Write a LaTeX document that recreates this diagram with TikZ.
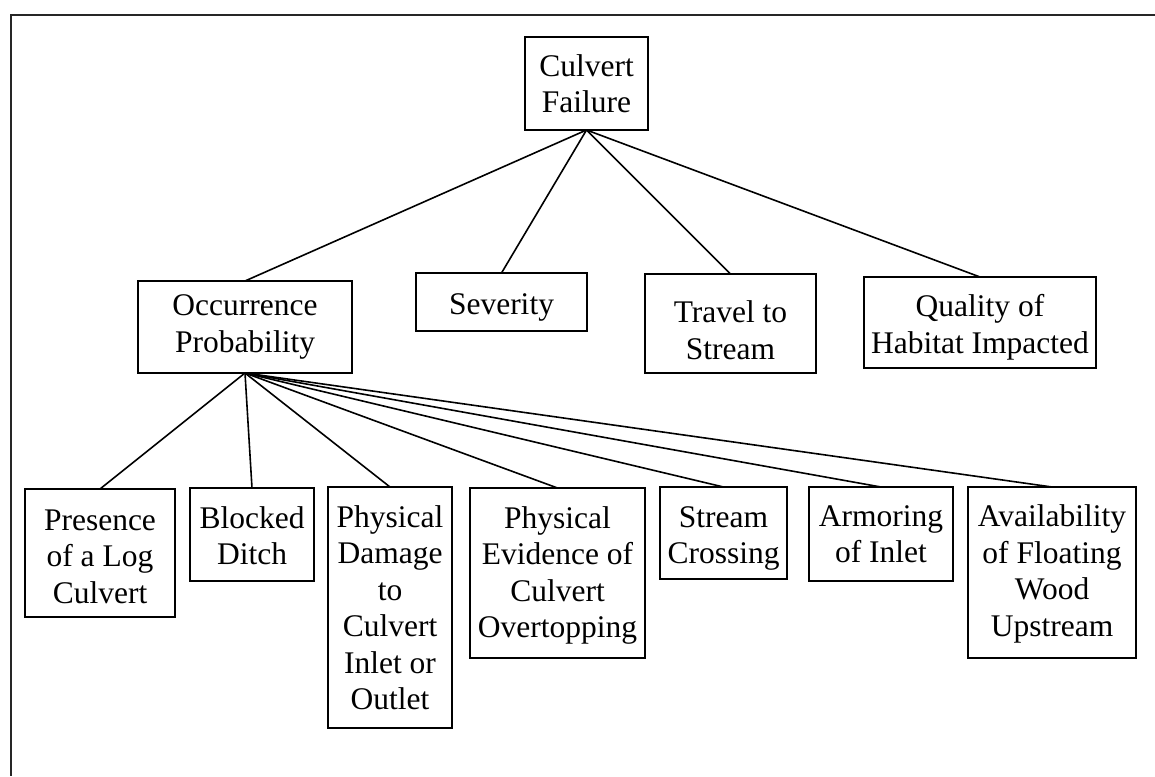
\documentclass[tikz,border=0pt]{standalone}
\usepackage{fontspec}
\setmainfont{Liberation Serif}
% invisible strut that lowers a box's text by #1 pt
\newcommand\dn[1]{\rule{0pt}{\dimexpr 21.5pt+#1pt*2\relax}}
\begin{document}
\begin{tikzpicture}[x=1pt,y=-1pt,
  box/.style={draw=black, line width=1.6pt, inner sep=0pt, outer sep=0pt,
    align=center, font=\fontsize{31.5}{36.5}\selectfont},
  link/.style={draw=black, line width=1.6pt},
  frame/.style={draw=black!85, line width=2.4pt}]
\useasboundingbox (0,0) rectangle (1155,776);

% outer frame (top and left edges)
\draw[frame] (1155,15) -- (11,15) -- (11,776);

% root
\node[box, minimum width=123, minimum height=93] (cf) at (586.5,83.5) {Culvert\\Failure};

% second level
\node[box, minimum width=214, minimum height=92] (op)  at (245,327)    {Occurrence\\Probability};
\node[box, minimum width=171, minimum height=58] (sev) at (501.5,302)  {\dn{5}Severity};
\node[box, minimum width=171, minimum height=99] (tts) at (730.5,323.5) {\dn{7}Travel to\\Stream};
\node[box, minimum width=232, minimum height=91] (qhi) at (980,322.5)  {\dn{5}Quality of\\Habitat Impacted};

% third level
\node[box, minimum width=150, minimum height=128] (plc) at (100,553)    {\dn{3}Presence\\of a Log\\Culvert};
\node[box, minimum width=124, minimum height=93]  (bd)  at (252,534.5)  {\dn{1.5}Blocked\\Ditch};
\node[box, minimum width=124, minimum height=241] (pd)  at (390,607.5)  {Physical\\Damage\\to\\Culvert\\Inlet or\\Outlet};
\node[box, minimum width=175, minimum height=170] (pe)  at (557.5,573)  {\dn{2.5}Physical\\Evidence of\\Culvert\\Overtopping};
\node[box, minimum width=127, minimum height=92]  (sc)  at (723.5,533)  {\dn{5}Stream\\Crossing};
\node[box, minimum width=144, minimum height=94]  (ai)  at (881,534)    {Armoring\\of Inlet};
\node[box, minimum width=168, minimum height=171] (afw) at (1052,572.5) {\dn{1.5}Availability\\of Floating\\Wood\\Upstream};

% connectors
\foreach \t in {op,sev,tts,qhi}
  \draw[link] (cf.south) -- (\t.north);
\foreach \t in {plc,bd,pd,pe,sc,ai,afw}
  \draw[link] (op.south) -- (\t.north);
\end{tikzpicture}
\end{document}
